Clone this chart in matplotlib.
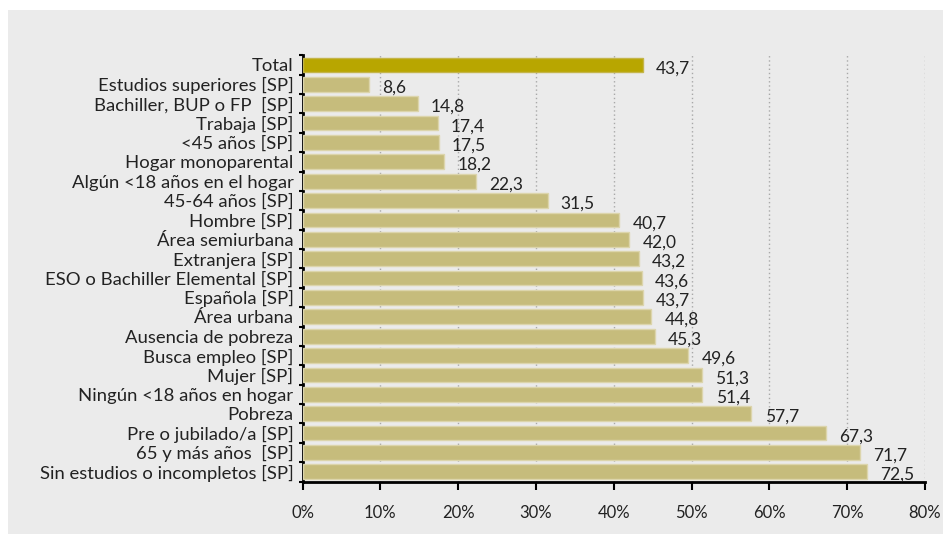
import matplotlib
matplotlib.use("Agg")
import matplotlib.pyplot as plt
from matplotlib.ticker import FuncFormatter
from matplotlib.patches import Rectangle

plt.rcParams['font.family'] = ['Lato', 'DejaVu Sans']

categories = [
    "Total",
    "Estudios superiores [SP]",
    "Bachiller, BUP o FP  [SP]",
    "Trabaja [SP]",
    "<45 años [SP]",
    "Hogar monoparental",
    "Algún <18 años en el hogar",
    "45-64 años [SP]",
    "Hombre [SP]",
    "Área semiurbana",
    "Extranjera [SP]",
    "ESO o Bachiller Elemental [SP]",
    "Española [SP]",
    "Área urbana",
    "Ausencia de pobreza",
    "Busca empleo [SP]",
    "Mujer [SP]",
    "Ningún <18 años en hogar",
    "Pobreza",
    "Pre o jubilado/a [SP]",
    "65 y más años  [SP]",
    "Sin estudios o incompletos [SP]",
]
values = [43.7, 8.6, 14.8, 17.4, 17.5, 18.2, 22.3, 31.5, 40.7, 42.0, 43.2,
          43.6, 43.7, 44.8, 45.3, 49.6, 51.3, 51.4, 57.7, 67.3, 71.7, 72.5]
x_ticks = [0, 10, 20, 30, 40, 50, 60, 70, 80]

bg = "#ebebeb"
bar_color = "#c6bc7c"
total_color = "#b8a600"

fig = plt.figure(figsize=(9.43, 5.34), dpi=100)
fig.patch.set_facecolor("white")
# grey panel behind the chart
fig.patches.append(Rectangle((8 / 943, 0), 1, 1 - 10 / 534, transform=fig.transFigure,
                             facecolor=bg, edgecolor="none", zorder=-10))

ax = fig.add_axes([302.5 / 943, 1 - 481.5 / 534, 622.5 / 943, 426.2 / 534])
ax.set_facecolor(bg)

n = len(categories)
ypos = list(range(n))
colors = [total_color] + [bar_color] * (n - 1)
edges = ["#c4b54a"] + ["#dcd5ac"] * (n - 1)
ax.barh(ypos, values, height=0.76, color=colors, edgecolor=edges, linewidth=1, zorder=3)

for y, v in zip(ypos, values):
    ax.annotate(f"{v:.1f}".replace(".", ","), xy=(v, y), xytext=(9.5, -2.3),
                textcoords="offset points", ha="left", va="center",
                fontsize=12.5, color="#222222", zorder=4)

ax.set_ylim(n - 0.5, -0.5)
ax.set_xlim(0, 80)
ax.set_xticks(x_ticks)
ax.xaxis.set_major_formatter(FuncFormatter(lambda x, p: f"{x:.0f}%"))

ax.set_yticks(ypos)
ax.set_yticklabels(categories, fontsize=13.3, color="#222222")
ax.tick_params(axis="y", which="major", length=0, pad=6.5)
ax.set_yticks([i - 0.5 for i in range(n + 1)], minor=True)
ax.tick_params(axis="y", which="minor", length=3, width=1.5, color="black", direction="out")
ax.tick_params(axis="x", length=6, width=1.5, color="black", pad=11, labelsize=12,
               labelcolor="#222222")

for x in x_ticks[1:]:
    ax.axvline(x, color="#a8a8a8", linestyle=(0, (1, 2)), linewidth=1, zorder=1)

for s in ["top", "right"]:
    ax.spines[s].set_visible(False)
for s in ["left", "bottom"]:
    ax.spines[s].set_linewidth(2)
    ax.spines[s].set_color("black")

fig.savefig("out.png", dpi=100, facecolor=fig.get_facecolor())
